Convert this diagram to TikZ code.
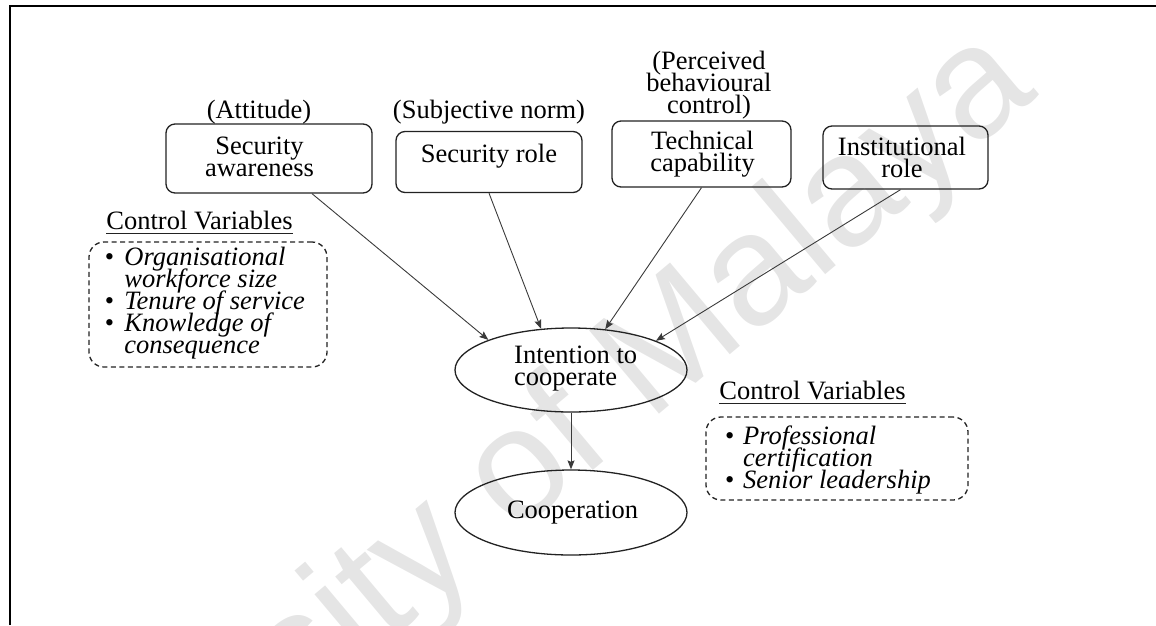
\documentclass[tikz,border=0pt]{standalone}
\usepackage{fontspec}
\setmainfont{Liberation Serif}
\newfontfamily\wmfont{Liberation Sans}
\usetikzlibrary{shapes.geometric,arrows.meta}
% line strut: fixed height and depth for every text line
\newcommand\ls{\rule[-6.5pt]{0pt}{25.5pt}}
\definecolor{ink}{HTML}{222222}
\definecolor{wire}{HTML}{3A3A3A}
\definecolor{wmgray}{HTML}{E5E5E5}
\begin{document}
\begin{tikzpicture}[x=1pt,y=-1pt,
  txt/.style={inner sep=0pt, align=center, text=black,
    font={\fontsize{26.5}{22}\selectfont\lineskiplimit=-100pt}},
  rbox/.style={draw=ink, line width=1.3pt, rounded corners=9pt, inner sep=0pt},
  oval/.style={draw=ink, line width=1.3pt, ellipse, inner sep=0pt,
    minimum width=232, minimum height=84},
  dbox/.style={draw=ink, line width=1.3pt, dash pattern=on 5pt off 3.5pt,
    rounded corners=15pt, inner sep=0pt},
  arr/.style={draw=wire, line width=0.9pt, -{Stealth[length=9pt,width=7pt,inset=1.5pt]}},
  uline/.style={draw=ink, line width=1.3pt},
  wm/.style={text=wmgray, inner sep=0pt, font={\wmfont\fontsize{158}{158}\selectfont}}
]
\useasboundingbox (0,0) rectangle (1156,625);

% watermark
\node[wm, rotate=40, anchor=base east] (wmk) at (1040,95) {University of Malaya};

% frame
\draw[line width=2pt, black] (9.5,625) -- (9.5,6) -- (1156,6);

% construct boxes
\node[rbox, minimum width=206, minimum height=69] (sa) at (269,158.5) {};
\node[rbox, minimum width=186, minimum height=61] (sr) at (489,162) {};
\node[rbox, minimum width=179, minimum height=66] (tc) at (701.5,154) {};
\node[rbox, minimum width=165, minimum height=63] (ir) at (905.5,157.5) {};
\node[oval] (it) at (571,370) {};
\node[oval, minimum height=85] (co) at (571,512.5) {};

% control variable boxes
\node[dbox, minimum width=238, minimum height=125] (cvlb) at (208,304.5) {};
\node[dbox, minimum width=262, minimum height=83] (cvrb) at (837,458.5) {};

% texts
\node[txt] (tatt) at (259,111.75) {\ls(Attitude)};
\node[txt] (tsa) at (259.5,159.25) {\ls Security\\\ls awareness};
\node[txt] (tsn) at (489,111.75) {\ls(Subjective norm)};
\node[txt] (tsr) at (489,155.75) {\ls Security role};
\node[txt] (tpbc) at (709,84.75) {\ls(Perceived\\\ls behavioural\\\ls control)};
\node[txt] (ttc) at (702.5,154.25) {\ls Technical\\\ls capability};
\node[txt] (tir) at (902,159.75) {\ls Institutional\\\ls role};
\node[txt, align=left, anchor=west] (tit) at (514,367.75) {\ls Intention to\\\ls cooperate};
\node[txt] (tco) at (572.5,511.75) {\ls Cooperation};

\node[txt] (cvl) at (199.5,222.75) {\ls Control Variables};
\node[txt] (cvr) at (812.5,392.75) {\ls Control Variables};
\draw[uline] ([yshift=-4.3pt]cvl.base west) -- ([yshift=-4.3pt]cvl.base east);
\draw[uline] ([yshift=-4.3pt]cvr.base west) -- ([yshift=-4.3pt]cvr.base east);

\node[txt, align=left, anchor=west] (lvl) at (104.7,303.25) {%
  \ls\makebox[19.5pt][l]{\textbullet}\textit{Organisational}\\
  \ls\hspace*{19.5pt}\textit{workforce size}\\
  \ls\makebox[19.5pt][l]{\textbullet}\textit{Tenure of service}\\
  \ls\makebox[19.5pt][l]{\textbullet}\textit{Knowledge of}\\
  \ls\hspace*{19.5pt}\textit{consequence}};
\node[txt, align=left, anchor=west] (lvr) at (725,460.25) {%
  \ls\makebox[18pt][l]{\textbullet}\textit{Professional}\\
  \ls\hspace*{18pt}\textit{certification}\\
  \ls\makebox[18pt][l]{\textbullet}\textit{Senior leadership}};

% connectors
\draw[arr] ([xshift=43pt]sa.south) -- (it.160.6);
\draw[arr] (sr.south) -- (it.126.5);
\draw[arr] (tc.south) -- (it.50.7);
\draw[arr] ([xshift=-5pt]ir.south) -- (it.19);
\draw[arr] (it.south) -- (co.north);
\end{tikzpicture}
\end{document}
